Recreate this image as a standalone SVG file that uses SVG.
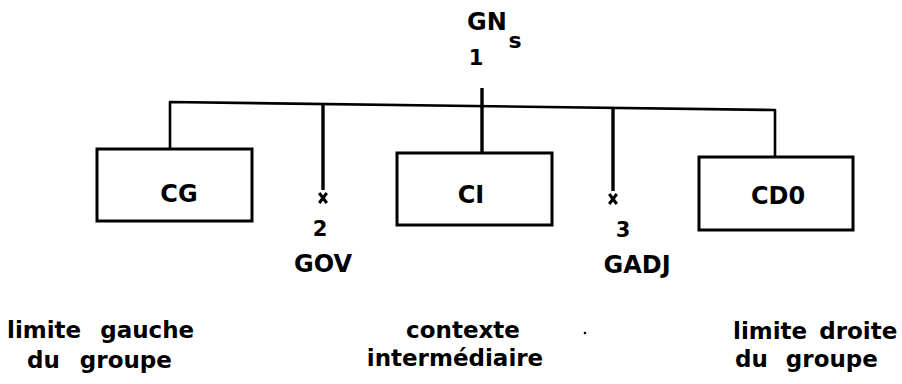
<svg xmlns="http://www.w3.org/2000/svg" width="902" height="384" viewBox="0 0 902 384">
<style>
text{font-family:"DejaVu Sans","Liberation Sans",sans-serif;font-weight:bold;fill:#000}
.lbl{font-size:24px;text-anchor:middle}
.num{font-size:21px;text-anchor:middle}
.cap{font-size:23px}
.box{fill:#fff;stroke:#000;stroke-width:3}
.ln{fill:none;stroke:#000;stroke-width:2.6;stroke-linejoin:round}
.stem{fill:none;stroke:#000;stroke-width:3.4}
</style>
<defs>
<marker id="cross" markerUnits="userSpaceOnUse" markerWidth="16" markerHeight="20" viewBox="-8 -10 16 20" refX="0" refY="-4" orient="0">
<path d="M-3.8,-1 L3.8,9 M3.8,-1 L-3.8,9" stroke="#000" stroke-width="3" fill="none"/>
</marker>
</defs>
<rect width="902" height="384" fill="#fff"/>
<g id="connectors">
<path class="ln" d="M170,149 L170,102 L775,110 L775,158"/>
<path class="stem" d="M482,88 L482,154"/>
<path class="stem" d="M323,104 L323,190" marker-end="url(#cross)"/>
<path class="stem" d="M613,108 L613,191" marker-end="url(#cross)"/>
</g>
<g id="root">
<text x="487" y="30" class="lbl">GN</text>
<text x="515" y="48" class="lbl" style="font-size:22px">s</text>
<text x="476" y="65" class="num">1</text>
</g>
<g id="CG">
<rect class="box" x="97" y="149" width="155" height="72"/>
<text x="179" y="202" class="lbl">CG</text>
</g>
<g id="GOV">
<text x="320" y="236" class="num">2</text>
<text x="323" y="272" class="lbl">GOV</text>
</g>
<g id="CI">
<rect class="box" x="397" y="153" width="155" height="72"/>
<text x="471" y="203" class="lbl">CI</text>
</g>
<g id="GADJ">
<text x="623" y="237" class="num">3</text>
<text x="637" y="273" class="lbl">GADJ</text>
</g>
<g id="CD0">
<rect class="box" x="699" y="157" width="154" height="73"/>
<text x="778" y="204" class="lbl">CD0</text>
</g>
<g id="captions">
<text x="7" y="338" class="cap" word-spacing="11">limite gauche</text>
<text x="27" y="368" class="cap" word-spacing="12">du groupe</text>
<text x="463" y="338" class="cap" text-anchor="middle">contexte</text>
<text x="455" y="366" class="cap" text-anchor="middle">intermédiaire</text>
<circle cx="585" cy="333" r="1.3" fill="#000"/>
<text x="733" y="339" class="cap" word-spacing="4">limite droite</text>
<text x="735" y="367" class="cap" word-spacing="10">du groupe</text>
</g>
</svg>
